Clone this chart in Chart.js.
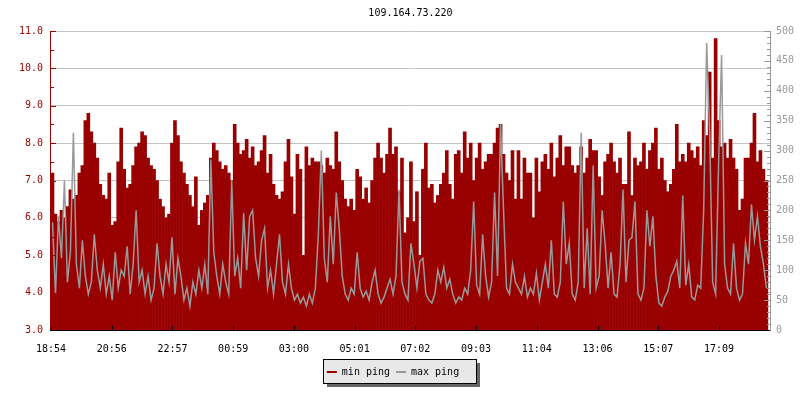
<!DOCTYPE html>
<html>
<head>
<meta charset="utf-8">
<script src="https://cdn.jsdelivr.net/npm/chart.js@4/dist/chart.umd.min.js"></script>
<style>
  html, body { margin: 0; padding: 0; background: #fff; }
  #wrap { width: 800px; height: 400px; }
</style>
</head>
<body>
<div id="wrap"><canvas id="chart" width="800" height="400"></canvas></div>
<script>
// one sample every ~6 minutes, 18:54 -> 18:54 next day
const SAMPLE_STEP = 5.97;
const X_MAX = 1437;
const TICK_STEP = 121.36;
const TICK_LABELS = ['18:54', '20:56', '22:57', '00:59', '03:00', '05:01',
  '07:02', '09:03', '11:04', '13:06', '15:07', '17:09'];

// min ping (left axis, ms)
const MIN_PING = [
  7.2, 6.1, 5.9, 6.2, 6.0, 6.3, 6.75, 6.5, 6.6, 7.2,
  7.4, 8.6, 8.8, 8.3, 8.0, 7.6, 6.9, 6.6, 6.5, 7.2,
  5.8, 5.9, 7.5, 8.4, 7.3, 6.8, 6.9, 7.4, 7.9, 8.0,
  8.3, 8.2, 7.6, 7.4, 7.3, 7.0, 6.5, 6.3, 6.0, 6.1,
  8.0, 8.6, 8.2, 7.5, 7.2, 6.9, 6.6, 6.3, 7.1, 5.8,
  6.2, 6.4, 6.6, 7.6, 8.0, 7.8, 7.5, 7.3, 7.4, 7.2,
  7.0, 8.5, 8.0, 7.7, 7.8, 8.1, 7.6, 7.9, 7.4, 7.5,
  7.8, 8.2, 7.2, 7.7, 6.9, 6.6, 6.5, 6.7, 7.5, 8.1,
  7.1, 6.1, 7.7, 7.3, 5.0, 7.9, 7.4, 7.6, 7.5, 7.5,
  7.4, 7.2, 7.6, 7.4, 7.3, 8.3, 7.5, 7.0, 6.5, 6.3,
  6.5, 6.2, 7.3, 7.1, 6.5, 6.8, 6.4, 7.0, 7.6, 8.0,
  7.6, 7.2, 7.7, 8.4, 7.7, 7.9, 6.7, 7.6, 5.6, 6.0,
  7.5, 5.9, 6.7, 5.0, 7.3, 8.0, 6.8, 6.9, 6.4, 6.6,
  6.9, 7.2, 7.8, 6.9, 6.5, 7.7, 7.8, 7.2, 8.3, 7.6,
  8.0, 7.0, 7.6, 8.0, 7.3, 7.5, 7.7, 7.7, 8.0, 8.4,
  8.5, 7.7, 7.2, 7.0, 7.8, 6.5, 7.8, 6.5, 7.6, 7.2,
  7.2, 6.0, 7.6, 6.7, 7.5, 7.7, 7.3, 8.0, 7.1, 7.6,
  8.2, 7.4, 7.9, 7.9, 7.4, 7.2, 7.4, 7.9, 7.2, 7.6,
  8.1, 7.8, 7.8, 7.1, 6.6, 7.5, 7.7, 8.0, 7.5, 7.2,
  7.6, 6.9, 6.9, 8.3, 6.6, 7.6, 7.4, 7.5, 8.0, 7.3,
  7.8, 8.0, 8.4, 7.3, 7.6, 7.0, 6.7, 6.9, 7.3, 8.5,
  7.5, 7.7, 7.5, 8.0, 7.8, 7.6, 7.9, 7.4, 8.6, 8.2,
  9.9, 7.6, 10.8, 8.6, 7.9, 8.0, 7.6, 8.1, 7.6, 7.3,
  6.2, 6.5, 7.6, 7.6, 8.0, 8.8, 7.5, 7.8, 7.3, 7.0
];

// max ping (right axis, ms)
const MAX_PING = [
  180, 60, 190, 120, 250, 80, 130, 330, 110, 70,
  150, 90, 60, 80, 160, 100, 70, 110, 60, 90,
  50, 130, 70, 100, 90, 140, 60, 110, 200, 80,
  100, 60, 90, 50, 70, 145, 90, 60, 110, 80,
  155, 60, 120, 90, 50, 70, 40, 80, 60, 100,
  70, 110, 60, 285, 130, 90, 60, 110, 80, 60,
  250, 90, 120, 70, 195, 100, 190, 200, 120, 90,
  150, 170, 70, 100, 60, 110, 160, 80, 60, 110,
  70, 50, 60, 45, 55, 40, 60, 45, 70, 160,
  300, 120, 80, 190, 110, 230, 170, 90, 60, 50,
  70, 60, 130, 70, 55, 65, 50, 80, 100, 60,
  45, 55, 70, 85, 60, 90, 235, 80, 60, 50,
  145, 110, 70, 115, 120, 60, 50, 45, 60, 100,
  80, 105, 70, 85, 60, 45, 55, 50, 70, 60,
  100, 215, 75, 60, 160, 90, 55, 80, 230, 90,
  345, 200, 70, 60, 110, 80, 70, 60, 90, 55,
  70, 60, 95, 50, 80, 110, 70, 150, 60, 55,
  80, 215, 110, 145, 60, 50, 80, 330, 70, 170,
  60, 275, 70, 90, 200, 145, 70, 130, 60, 55,
  110, 235, 80, 150, 155, 215, 60, 50, 70, 200,
  140, 190, 90, 45, 40, 55, 65, 90, 100, 115,
  70, 225, 75, 110, 55, 50, 75, 70, 200, 480,
  330, 80, 60, 280, 460, 110, 70, 60, 145, 70,
  50, 60, 145, 110, 210, 150, 190, 140, 110, 70
];

const RED = '#990000';
const GRAY = '#999999';
const FONT = { family: "'DejaVu Sans Mono', 'Liberation Mono', monospace", size: 10 };

const minData = MIN_PING.map((v, i) => ({ x: (i + 0.5) * SAMPLE_STEP, y: v }));
const maxData = MAX_PING.map((v, i) => ({ x: (i + 0.5) * SAMPLE_STEP, y: v }));

// axis lines + inward tick marks, drawn over the data
const axisMarks = {
  id: 'axisMarks',
  afterDatasetsDraw(chart) {
    const { ctx, chartArea: a, scales } = chart;
    ctx.save();
    ctx.lineWidth = 1;

    ctx.strokeStyle = RED;
    ctx.beginPath();
    ctx.moveTo(a.left - 0.5, a.top);
    ctx.lineTo(a.left - 0.5, a.bottom + 1);
    for (let v = 3; v <= 11; v += 0.5) {
      const y = Math.round(scales.y.getPixelForValue(v)) + 0.5;
      ctx.moveTo(a.left, y);
      ctx.lineTo(a.left + (v % 1 === 0 ? 5 : 3), y);
    }
    ctx.stroke();

    ctx.strokeStyle = GRAY;
    ctx.beginPath();
    ctx.moveTo(a.right + 0.5, a.top);
    ctx.lineTo(a.right + 0.5, a.bottom + 1);
    for (let v = 0; v <= 500; v += 10) {
      const y = Math.round(scales.y2.getPixelForValue(v)) + 0.5;
      ctx.moveTo(a.right, y);
      ctx.lineTo(a.right - (v % 50 === 0 ? 6 : 3), y);
    }
    ctx.stroke();

    ctx.strokeStyle = '#000';
    ctx.beginPath();
    ctx.moveTo(a.left - 1, a.bottom + 0.5);
    ctx.lineTo(a.right, a.bottom + 0.5);
    scales.x.ticks.forEach(t => {
      const x = Math.round(scales.x.getPixelForValue(t.value)) + 0.5;
      ctx.moveTo(x, a.bottom);
      ctx.lineTo(x, a.bottom - 4);
    });
    ctx.stroke();
    ctx.restore();
  }
};

// grey legend panel with a drop shadow, nudged a bit left like the original
const legendBox = {
  id: 'legendBox',
  afterLayout(chart) {
    if (chart.legend) {
      chart.legend.left -= 7;
      chart.legend.right -= 7;
    }
  },
  beforeDraw(chart) {
    const boxes = chart.legend && chart.legend.legendHitBoxes;
    if (!boxes || !boxes.length) return;
    const first = boxes[0];
    const last = boxes[boxes.length - 1];
    const x = Math.round(first.left) - 3.5;
    const y = Math.round(first.top) - 7.5;
    const w = Math.round(last.left + last.width + 17 - x);
    const h = 24;
    const ctx = chart.ctx;
    ctx.save();
    ctx.fillStyle = '#666666';
    ctx.fillRect(x + 3.5, y + 3.5, w, h);
    ctx.fillStyle = '#e8e8e8';
    ctx.fillRect(x, y, w, h);
    ctx.strokeStyle = '#000';
    ctx.lineWidth = 1;
    ctx.strokeRect(x, y, w, h);
    ctx.restore();
  }
};

new Chart(document.getElementById('chart'), {
  data: {
    datasets: [
      {
        type: 'bar',
        label: 'min ping',
        data: minData,
        backgroundColor: RED,
        borderWidth: 0,
        barPercentage: 1,
        categoryPercentage: 1,
        xAxisID: 'x',
        yAxisID: 'y',
        order: 1
      },
      {
        type: 'line',
        label: 'max ping',
        data: maxData,
        borderColor: GRAY,
        borderWidth: 1.5,
        tension: 0,
        pointRadius: 0,
        fill: false,
        xAxisID: 'x',
        yAxisID: 'y2',
        order: 0
      }
    ]
  },
  options: {
    responsive: false,
    animation: false,
    events: [],
    layout: { padding: { left: 0, right: 0, top: 0, bottom: 13 } },
    scales: {
      x: {
        type: 'linear',
        offset: false,
        min: 0,
        max: X_MAX,
        grid: { display: false, offset: false },
        border: { display: false },
        afterBuildTicks: s => { s.ticks = TICK_LABELS.map((t, k) => ({ value: k * TICK_STEP })); },
        afterFit: s => { s.height = 31; },
        ticks: {
          autoSkip: false,
          maxRotation: 0,
          padding: 5,
          color: '#000',
          font: FONT,
          callback: (v, i) => TICK_LABELS[i]
        }
      },
      y: {
        position: 'left',
        min: 3,
        max: 11,
        grid: { color: '#c4c4c4', drawTicks: false },
        border: { display: false },
        afterFit: s => { s.width = 51; },
        ticks: {
          stepSize: 1,
          padding: 8,
          color: RED,
          font: FONT,
          callback: v => v.toFixed(1)
        }
      },
      y2: {
        position: 'right',
        min: 0,
        max: 500,
        grid: { drawOnChartArea: false, drawTicks: false },
        border: { display: false },
        afterFit: s => { s.width = 30; },
        ticks: {
          stepSize: 50,
          padding: 6,
          color: GRAY,
          font: FONT
        }
      }
    },
    plugins: {
      title: {
        display: true,
        text: '109.164.73.220',
        color: '#000',
        fullSize: false,
        font: { family: FONT.family, size: 10, weight: 'normal' },
        padding: { top: 7, bottom: 12 }
      },
      legend: {
        position: 'bottom',
        labels: {
          usePointStyle: true,
          pointStyleWidth: 10,
          padding: 6,
          color: '#000',
          font: FONT,
          generateLabels: () => [
            { text: 'min ping', strokeStyle: RED, fillStyle: RED, lineWidth: 2, pointStyle: 'line', hidden: false, datasetIndex: 0 },
            { text: 'max ping', strokeStyle: GRAY, fillStyle: GRAY, lineWidth: 2, pointStyle: 'line', hidden: false, datasetIndex: 1 }
          ]
        }
      },
      tooltip: { enabled: false }
    }
  },
  plugins: [axisMarks, legendBox]
});
</script>
</body>
</html>
